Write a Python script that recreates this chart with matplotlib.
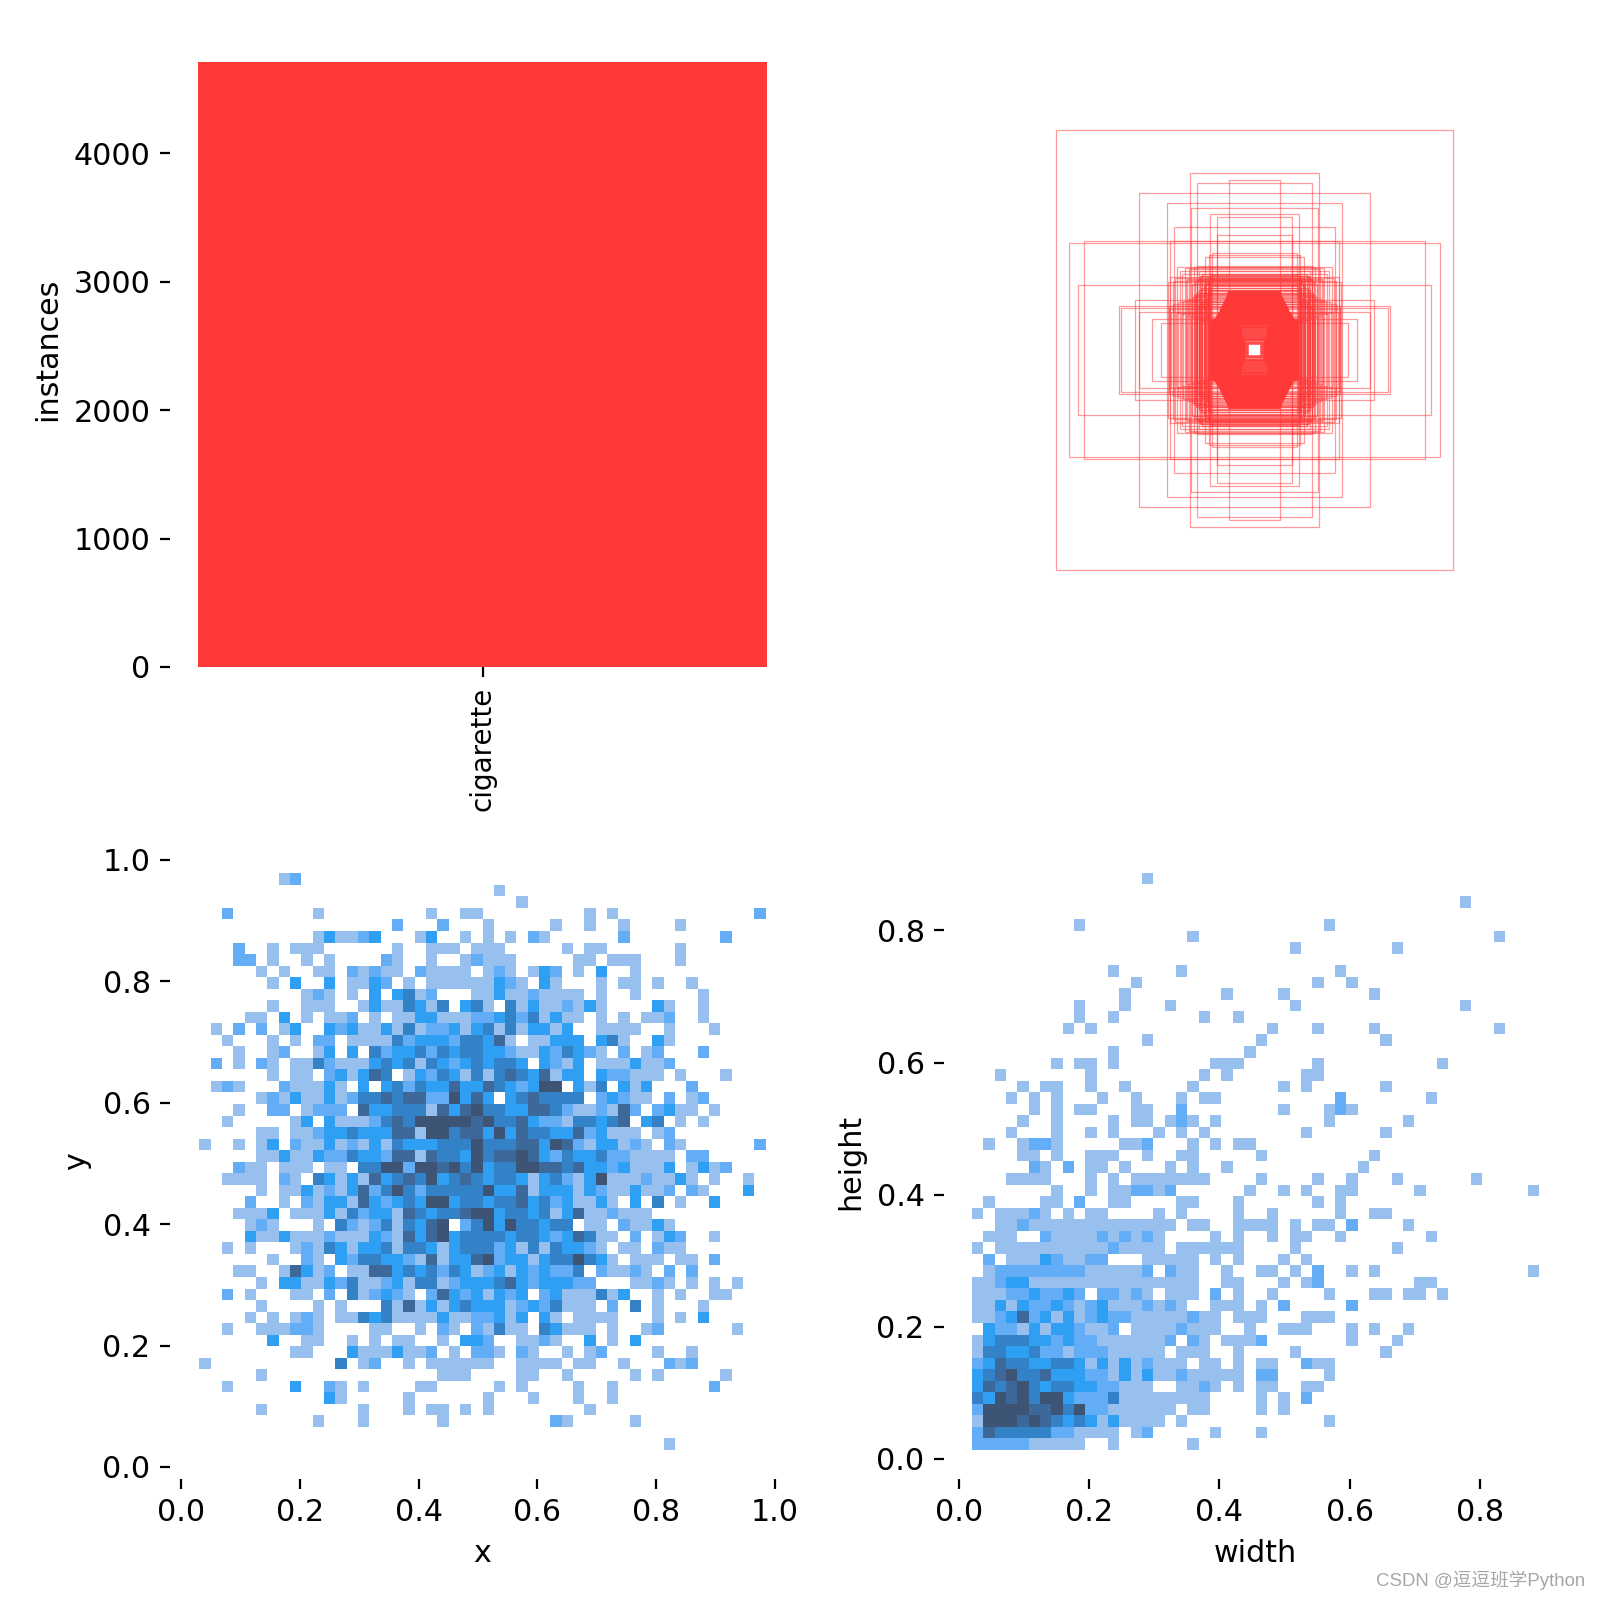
import matplotlib
matplotlib.use("Agg")
import matplotlib.pyplot as plt
import numpy as np
from matplotlib.colors import BoundaryNorm, ListedColormap
from matplotlib.patches import Rectangle


plt.rcParams["font.size"] = 10.85

RED = "#FF3838"
SHADES = ["#98C0EF", "#62ADF5", "#2E9FF2", "#3381C6", "#3C699A", "#3D5475"]

CLASS_NAMES = ["cigarette"]
INSTANCES = [4708]

# bin edges of the two 2d histograms
X_RANGE = (0.031, 0.984)
Y_RANGE = (0.028, 0.978)
WIDTH_RANGE = (0.020, 0.891)
HEIGHT_RANGE = (0.0136, 0.887)
N_BINS = 50

# shade level per bin, top row first, written as "first_col:levels"
XY_ROWS = [
    "7:12",
    "26:1",
    "28:1",
    "2:2 10:1 20:1 23:11 34:1 36:1 49:2",
    "17:2 21:2 25:1 31:1 34:1 37:1 42:1",
    "10:1311 14:23 19:13 23:1 25:1 27:1 29:21 37:2 46:2",
    "3:2 6:1 8:111 17:1 20:111 24:111 32:1 34:11 42:1",
    "3:22 6:1 9:1 11:1 16:21 20:1 23:12 25:111 33:11 36:111 42:1",
    "5:1 7:1 10:11 13:21211 19:2111 23:1 25:121 29:132 33:1 35:3 38:1",
    "6:1 8:3 11:3 13:1132 18:1 20:11111 25:1321 30:31 35:1 37:11 40:1 43:1",
    "9:121 13:1 15:3 17:3412 24:1131121111 35:1 38:1 44:1",
    "6:1 9:111 14:13114314 23:341 27:413112131 40:31 44:1",
    "4:11 7:3 9:1 11:112 15:1 17:11331112234241311 35:1 37:1 39:112 44:1",
    "1:1 3:2 5:2 7:13 11:3231131412231341413313 35:1111 41:1 45:1",
    "2:1 6:1 8:1 10:22 13:111142333244351 29:11333 35:341 40:31",
    "3:1 6:12 10:13 13:3 15:423342434433211324321 37:2 39:12 44:2",
    "1:2 3:1 5:21 8:114211134341432343443 30:3213 35:1113112",
    "6:1 8:11 11:231354 18:1324314145435133 35:322111 42:1 46:1",
    "1:121 7:211131 14:3 16:3424335335432366 33:314 37:313 43:2",
    "5:121311312445455226353 27:3454444 35:23211 41:2 43:12",
    "3:1 6:22 9:1222 14:5334441535644335542112152 40:2311 45:1",
    "2:1 8:13 11:311124546666656445322144345 39:34 42:1 44:1",
    "5:11 8:1123343335516645536354433523111 40:12",
    "0:1 3:1 5:13 8:21131213143334446444553652133121 41:21 49:2",
    "5:1131132243325515443645565324334221111 43:22",
    "3:211 7:111 11:11 14:4466266564634466554533231113 43:1312",
    "2:1111 7:21 10:4313153454634543443134213611121131 45:1 48:1",
    "5:1 7:11312135246424444463351333132113112 43:21 48:3",
    "4:2 7:1 9:2133153234366344344534231131 38:3 40:4 42:1 45:3",
    "3:1113 8:11131423315434456634434135112111",
    "4:121 10:1 12:4212414356 23:2463644344 34:11 37:21131",
    "4:311311121113215356344443443235411 38:2 40:132 45:1",
    "2:1 4:1 8:1214313341443134442314143321 37:11 40:211",
    "6:1 9:21 12:3244332151335623313446431 38:111 42:11 45:2",
    "3:11 7:15312 13:115534342431231323224 35:21121 41:2 43:2",
    "5:1 7:3311324112314412333453233322 38:1121 43:1 45:1 47:1",
    "2:2 4:1 8:11 11:2 13:412321 20:253231323 30:23111413 40:1 42:1 45:11",
    "5:1 10:1 12:1 16:4151313433312324111 36:2 38:4 40:1 44:1",
    "4:1 6:1 8:121 12:11434111131122313 30:31 33:1111 40:1 42:1 44:3",
    "2:1 5:111221 15:11 19:1 21:21 24:21411 30:43111 36:1 39:12 47:1",
    "6:3 9:11 13:1 15:1 17:11 21:1 23:332 28:1121 34:3 36:1 38:3",
    "8:11 13:31113112 22:1 24:221 28:21 32:1 34:12 40:1 43:1",
    "0:1 12:4 14:12 18:1 20:111111 28:1111 33:11 37:1 41:212",
    "5:1 21:111 28:11 32:1 38:1 40:1 46:1",
    "2:1 8:3 11:21 14:1 19:11 26:1 28:1 33:1 36:1 45:2",
    "11:31 18:1 25:1 29:1 33:1 36:1",
    "5:1 14:1 18:1 20:11 23:1 25:1 34:1",
    "10:1 14:1 21:1 31:21 38:1",
    "",
    "41:1",
]

WH_ROWS = [
    "15:1",
    "",
    "43:1",
    "",
    "9:1 31:1",
    "19:1 46:1",
    "28:1 37:1",
    "",
    "12:1 18:1 32:1",
    "14:1 30:1 33:1",
    "13:1 22:1 27:1 35:1",
    "9:1 13:1 17:1 28:1 43:1",
    "9:1 12:1 20:1 23:1",
    "8:1 10:1 26:1 30:1 35:1 46:1",
    "15:1 25:1 36:1",
    "12:1 24:1",
    "7:1 9:11 12:1 21:111 30:1 41:1",
    "2:1 10:1 20:1 22:1 29:11",
    "4:1 6:11 10:1 13:1 19:1 27:1 29:1 36:1",
    "3:1 5:1 7:1 11:1 14:1 18:1 20:11 32:2 40:1",
    "5:1 7:1 9:11 14:11 18:2 27:1 31:1 32:2 33:1",
    "4:1 7:1 12:1 14:11 17:121 21:1 31:1 38:1",
    "3:1 7:1 10:1 12:1 16:1 18:1 20:1 29:1 36:1",
    "1:1 4:1221 13:112 19:1 21:1 23:11",
    "4:11 7:1 10:111 15:1 18:11 25:1 35:1",
    "5:21 8:2 10:11 13:1 17:1 19:1 22:1 34:1",
    "3:1111 10:1 12:1 14:1111111 25:1 30:1 33:1 37:1 44:1",
    "7:1 10:1 12:11 14:221 17:2 24:1 27:1 29:1 32:11 39:1 49:1",
    "1:1 6:11 9:2 12:11 18:11 23:1 30:1 32:1",
    "0:1 2:1112 6:1 8:1 10:11 16:1 18:1 23:1 26:1 32:1 35:11",
    "2:1121111111111111 19:11 23:111 26:1 28:1 30:11 33:2 38:1",
    "1:111 6:21111212121 21:1 23:1 26:1 28:11 32:1 40:1",
    "0:1 2:111111111121111 18:111111 28:1 37:1",
    "1:2 3:111 6:32 8:11 10:22 15:11111 21:1 23:1 27:1 29:1",
    "1:1 2:22222222 10:11 12:111 15:2 17:211 22:1 25:11 28:1 30:2 33:1 35:1 49:1",
    "0:11 2:233 5:1111 9:111 12:11 14:111111 22:11 27:1 29:12 39:11",
    "0:1112232232 11:22 13:121 17:111 21:2 23:1 26:1 31:1 35:11 38:11 41:1",
    "0:1131322321231112121 21:111 25:1 27:2 33:2",
    "0:1123523131232211111211 23:111 29:111",
    "1:322131332112011112111 24:1 27:111 33:1 35:1 38:1",
    "0:134443323221111112 19:21 22:11 24:12 33:1 37:1",
    "0:14433422122211111 18:111 23:1 28:1 36:1",
    "0:2354433443131312111 20:11 23:1 25:11 29:211",
    "0:345644533322131311211111 25:22 31:1",
    "0:3545643443322111 18:1121 23:1 25:11 29:11",
    "0:436564663222411111111 25:1 27:1 29:2",
    "0:266665564622111111 19:11 25:1 27:1",
    "0:16665654343131111 18:1 31:1",
    "0:2544444221111 14:12 21:1 25:1",
    "0:2222211111 12:1 19:1",
]

# label boxes, all centred in the image, sizes as fraction of the image
LARGE_W = [0.626, 0.203, 0.181, 0.081, 0.364, 0.275, 0.139, 0.118, 0.254, 0.583, 0.538,
           0.267, 0.118, 0.201, 0.557, 0.426, 0.376, 0.420, 0.364, 0.322, 0.296]
LARGE_H = [0.693, 0.557, 0.526, 0.534, 0.493, 0.462, 0.427, 0.420, 0.386, 0.338, 0.344,
           0.344, 0.362, 0.446, 0.204, 0.139, 0.156, 0.131, 0.121, 0.097, 0.084]

MID_W = [0.133, 0.142, 0.157, 0.180, 0.243, 0.265, 0.215, 0.273, 0.181, 0.214, 0.190, 0.205,
         0.220, 0.235, 0.250, 0.258, 0.228, 0.176, 0.168, 0.160, 0.152, 0.148, 0.145, 0.172,
         0.184, 0.196, 0.208, 0.224, 0.240, 0.256, 0.268, 0.270, 0.262, 0.248, 0.232, 0.216,
         0.200, 0.188, 0.176, 0.164, 0.156, 0.146]
MID_H = [0.304, 0.299, 0.294, 0.263, 0.262, 0.231, 0.224, 0.213, 0.220, 0.222, 0.262, 0.255,
         0.258, 0.250, 0.228, 0.218, 0.240, 0.248, 0.232, 0.214, 0.205, 0.196, 0.188, 0.178,
         0.170, 0.166, 0.160, 0.154, 0.150, 0.146, 0.140, 0.128, 0.120, 0.116, 0.112, 0.108,
         0.104, 0.100, 0.096, 0.092, 0.088, 0.084]

RING_W = [0.140, 0.144, 0.148, 0.152, 0.156, 0.160, 0.164, 0.168, 0.172, 0.176, 0.180, 0.184,
          0.188, 0.192, 0.196, 0.150, 0.158, 0.166, 0.174, 0.182, 0.138, 0.142]
RING_H = [0.236, 0.228, 0.220, 0.212, 0.228, 0.204, 0.240, 0.196, 0.232, 0.188, 0.224, 0.180,
          0.216, 0.172, 0.208, 0.164, 0.176, 0.152, 0.144, 0.136, 0.200, 0.186]

CORE_W = [0.021, 0.024, 0.027, 0.030, 0.032, 0.033, 0.034, 0.036, 0.037, 0.038, 0.040, 0.041,
          0.042, 0.044, 0.045, 0.046, 0.048, 0.049, 0.050, 0.052, 0.053, 0.054, 0.056, 0.057,
          0.058, 0.060, 0.061, 0.062, 0.064, 0.065, 0.066, 0.068, 0.069, 0.070, 0.071, 0.072,
          0.073, 0.074, 0.075, 0.076, 0.077, 0.078, 0.078, 0.079, 0.079, 0.079, 0.079, 0.079,
          0.079, 0.079, 0.079, 0.079, 0.079, 0.079, 0.079]
CORE_H = [0.018, 0.022, 0.026, 0.030, 0.033, 0.036, 0.039, 0.042, 0.045, 0.048, 0.051, 0.054,
          0.057, 0.060, 0.063, 0.066, 0.069, 0.072, 0.075, 0.078, 0.081, 0.084, 0.087, 0.090,
          0.093, 0.096, 0.099, 0.102, 0.105, 0.108, 0.111, 0.114, 0.117, 0.120, 0.123, 0.126,
          0.129, 0.132, 0.135, 0.138, 0.141, 0.144, 0.147, 0.150, 0.153, 0.156, 0.159, 0.162,
          0.165, 0.168, 0.171, 0.174, 0.177, 0.180, 0.184]

FILL_W = [0.043, 0.047, 0.051, 0.055, 0.059, 0.063, 0.067, 0.070, 0.073, 0.075, 0.077, 0.078,
          0.079, 0.078, 0.077, 0.075, 0.072, 0.069, 0.065, 0.061, 0.057, 0.053, 0.049, 0.079,
          0.078, 0.077, 0.079, 0.078, 0.076, 0.074, 0.071, 0.067, 0.063, 0.059, 0.055, 0.079]
FILL_H = [0.074, 0.082, 0.092, 0.100, 0.110, 0.118, 0.128, 0.137, 0.146, 0.155, 0.164, 0.172,
          0.181, 0.167, 0.158, 0.149, 0.140, 0.131, 0.122, 0.113, 0.104, 0.095, 0.086, 0.184,
          0.176, 0.169, 0.160, 0.152, 0.143, 0.134, 0.125, 0.116, 0.107, 0.098, 0.089, 0.175]

SIDE_W = [0.082, 0.085, 0.088, 0.091, 0.094, 0.097, 0.100, 0.103, 0.106, 0.109, 0.112, 0.115,
          0.118, 0.121, 0.124, 0.127, 0.130, 0.133, 0.136, 0.083, 0.086, 0.089, 0.092, 0.095,
          0.098, 0.101, 0.104, 0.107, 0.110, 0.113, 0.116, 0.119, 0.122, 0.125, 0.128, 0.131,
          0.134, 0.136]
SIDE_H = [0.178, 0.172, 0.166, 0.160, 0.154, 0.148, 0.142, 0.136, 0.130, 0.124, 0.118, 0.112,
          0.106, 0.102, 0.098, 0.096, 0.094, 0.092, 0.090, 0.170, 0.165, 0.158, 0.150, 0.146,
          0.139, 0.133, 0.127, 0.122, 0.116, 0.110, 0.106, 0.100, 0.097, 0.094, 0.092, 0.090,
          0.088, 0.094]


def decode_rows(rows):
    counts = np.zeros((N_BINS, N_BINS))
    for r, row in enumerate(rows):
        for run in row.split():
            start, levels = run.split(":")
            for i, level in enumerate(levels):
                counts[r, int(start) + i] = int(level)
    return np.ma.masked_equal(counts[::-1], 0)


def px_axes(fig, left, top, right, bottom):
    return fig.add_axes([left / 1600, 1 - bottom / 1600, (right - left) / 1600, (bottom - top) / 1600])


def hide_spines(ax):
    for side in ("top", "right", "left", "bottom"):
        ax.spines[side].set_visible(False)


def hist_panel(ax, rows, x_range, y_range, xticks, yticks, xlabel, ylabel, xlim, ylim):
    cmap = ListedColormap(SHADES)
    norm = BoundaryNorm(np.arange(0.5, 7.5), cmap.N)
    x_edges = np.linspace(x_range[0], x_range[1], N_BINS + 1)
    y_edges = np.linspace(y_range[0], y_range[1], N_BINS + 1)
    ax.pcolormesh(x_edges, y_edges, decode_rows(rows), cmap=cmap, norm=norm)
    ax.set_xlim(*xlim)
    ax.set_ylim(*ylim)
    ax.set_xticks(xticks)
    ax.set_yticks(yticks)
    ax.set_xlabel(xlabel)
    ax.set_ylabel(ylabel)
    hide_spines(ax)


def add_boxes(ax, widths, heights, alpha, lw=0.45):
    for w, h in zip(widths, heights):
        ax.add_patch(Rectangle((0.5 - w / 2, 0.5 - h / 2), w, h, fill=False, edgecolor=RED, linewidth=lw, alpha=alpha))


def main():
    fig = plt.figure(figsize=(8, 8), dpi=200)

    ax = px_axes(fig, 170, 32, 795, 667)
    ax.bar(range(len(INSTANCES)), INSTANCES, width=0.8, color=RED)
    ax.set_ylabel("instances")
    ax.set_xticks(range(len(CLASS_NAMES)))
    ax.set_xticklabels(CLASS_NAMES, rotation=90, fontsize=10)
    ax.set_yticks([0, 1000, 2000, 3000, 4000])
    hide_spines(ax)

    ax = px_axes(fig, 937, 32.5, 1572, 667.5)
    ax.set_xlim(0, 1)
    ax.set_ylim(0, 1)
    ax.axis("off")
    add_boxes(ax, LARGE_W, LARGE_H, 0.5)
    add_boxes(ax, MID_W, MID_H, 0.5)
    add_boxes(ax, RING_W, RING_H, 0.65)
    add_boxes(ax, SIDE_W, SIDE_H, 0.9, lw=0.55)
    add_boxes(ax, FILL_W, FILL_H, 0.9, lw=0.55)
    add_boxes(ax, CORE_W, CORE_H, 0.9, lw=0.55)

    ax = px_axes(fig, 170, 844, 795, 1479)
    hist_panel(ax, XY_ROWS, X_RANGE, Y_RANGE, [0, 0.2, 0.4, 0.6, 0.8, 1.0], [0, 0.2, 0.4, 0.6, 0.8, 1.0],
               "x", "y", (-0.0185, 1.0335), (-0.0198, 1.0263))

    ax = px_axes(fig, 944, 844, 1567, 1479)
    hist_panel(ax, WH_ROWS, WIDTH_RANGE, HEIGHT_RANGE, [0, 0.2, 0.4, 0.6, 0.8], [0, 0.2, 0.4, 0.6, 0.8],
               "width", "height", (-0.023, 0.934), (-0.0303, 0.9307))

    fig.text(1585 / 1600, 1 - 1580 / 1600, "CSDN @逗逗班学Python", ha="right", va="center", fontsize=6.7,
             color="#A6A6A6", family=["Liberation Sans", "Noto Sans CJK SC"])

    fig.savefig("out.png", dpi=200)
    plt.close(fig)


if __name__ == "__main__":
    main()
